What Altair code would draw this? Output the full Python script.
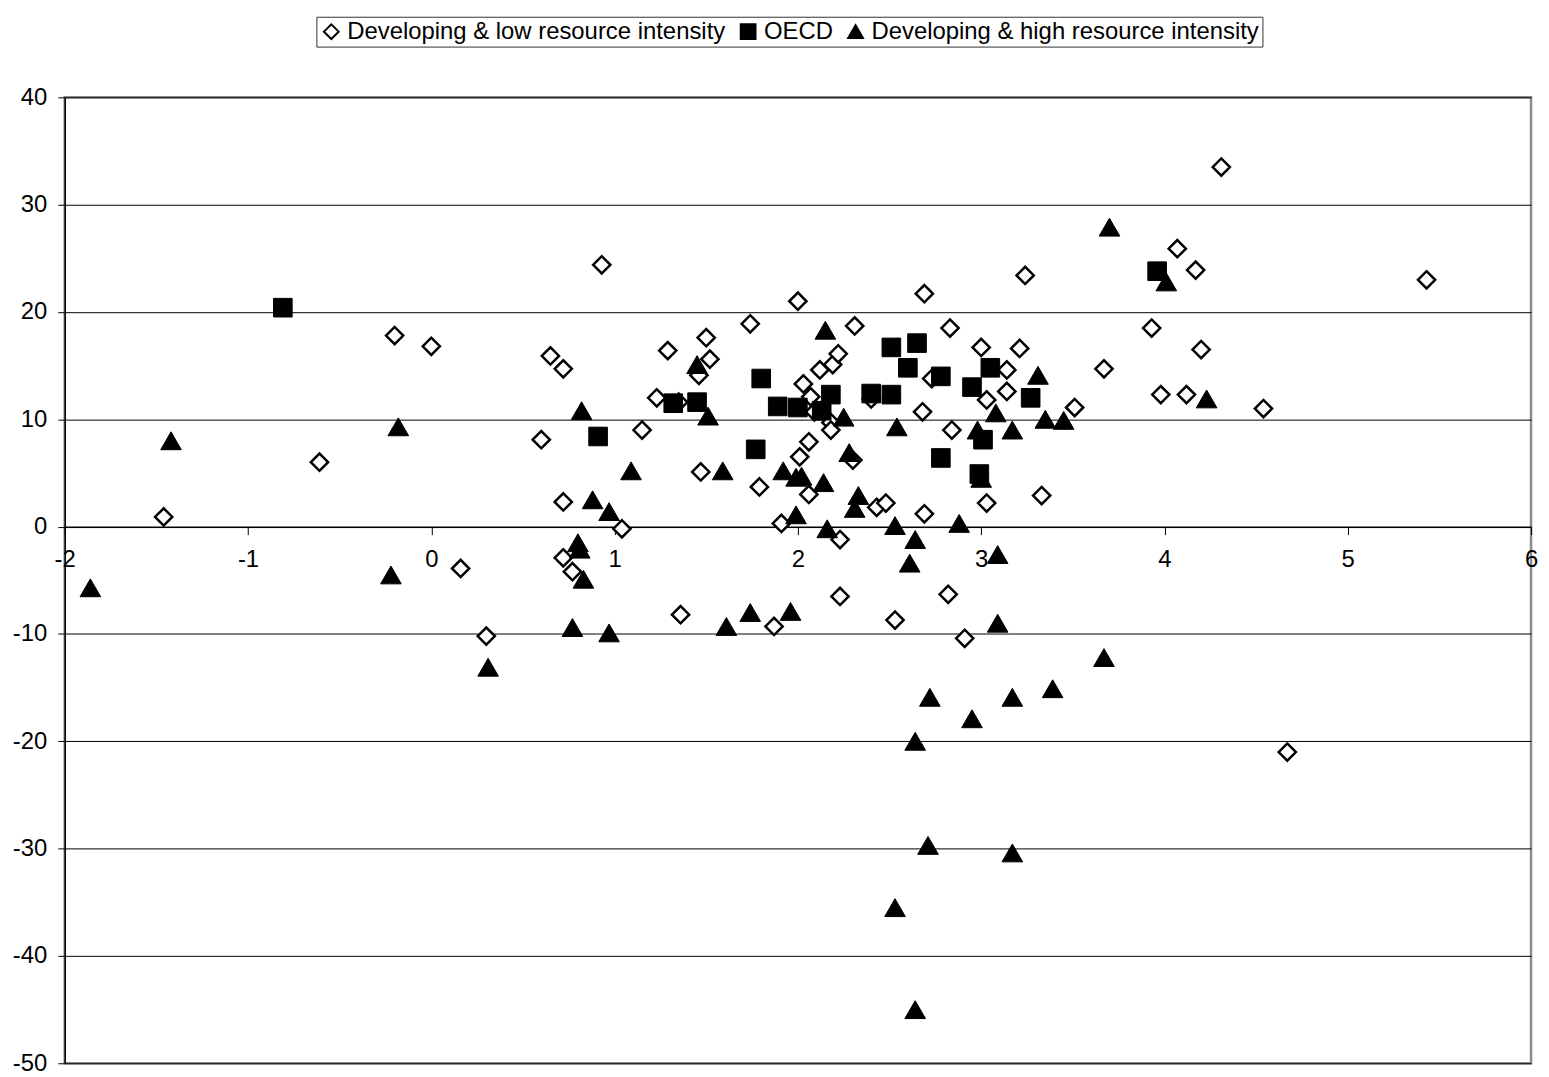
import altair as alt
import pandas as pd

# ---- data ----
series = ["Developing & low resource intensity", "OECD", "Developing & high resource intensity"]

low_x = [-1.46, -0.61, -0.20, 0.00, 0.16, 0.30, 0.60, 0.65, 0.72, 0.93, 0.72, 0.72, 0.77, 1.04,
         1.15, 1.23, 1.29, 1.35, 1.36, 1.46, 1.50, 1.52, 1.47, 1.74, 1.79, 1.87, 1.91, 2.00,
         2.03, 2.06, 2.01, 2.06, 2.07, 2.09, 2.12, 2.19, 2.22, 2.18, 2.18, 2.23, 2.23, 2.30,
         2.31, 2.40, 2.43, 2.48, 2.53, 2.68, 2.69, 2.69, 2.73, 2.82, 2.83, 2.84, 2.91, 3.00,
         3.03, 3.03, 3.14, 3.14, 3.21, 3.24, 3.33, 3.51, 3.67, 3.93, 3.98, 4.07, 4.12, 4.17,
         4.20, 4.31, 4.54, 4.67, 5.43]
low_y = [0.9, 6.0, 17.8, 16.8, -3.9, -10.2, 8.1, 15.9, 14.7, 24.4, 2.3, -2.9, -4.2, -0.2,
         9.0, 12.0, 16.4, 11.6, -8.2, 14.1, 17.6, 15.6, 5.1, 18.9, 3.7, -9.3, 0.3, 21.0,
         13.3, 7.9, 6.5, 3.0, 12.1, 10.7, 14.6, 15.1, 16.1, 9.7, 9.0, -1.2, -6.5, 6.2,
         18.7, 11.9, 1.8, 2.2, -8.7, 10.7, 21.7, 1.2, 13.8, -6.3, 18.5, 9.0, -10.4, 16.7,
         11.8, 2.2, 14.6, 12.6, 16.6, 23.4, 2.9, 11.1, 14.7, 18.5, 12.3, 25.9, 12.3, 23.9,
         16.5, 33.5, 11.0, -21.0, 23.0]

oecd_x = [-0.81, 0.91, 1.32, 1.45, 1.77, 1.80, 1.89, 2.00, 2.13, 2.18, 2.40, 2.51, 2.51, 2.60,
          2.65, 2.78, 2.78, 2.95, 2.99, 3.01, 3.05, 3.27, 3.96]
oecd_y = [20.4, 8.4, 11.5, 11.6, 7.2, 13.8, 11.2, 11.1, 10.8, 12.3, 12.4, 12.3, 16.7, 14.8,
          17.1, 14.0, 6.4, 13.0, 4.9, 8.1, 14.8, 12.0, 23.8]

high_x = [-1.86, -1.42, -0.22, -0.18, 0.31, 0.77, 0.80, 0.81, 0.83, 0.82, 0.88, 0.97, 0.97,
          1.09, 1.45, 1.51, 1.59, 1.61, 1.74, 1.92, 1.96, 1.99, 2.02, 1.99, 2.14, 2.15, 2.16,
          2.25, 2.28, 2.33, 2.31, 2.53, 2.54, 2.53, 2.61, 2.64, 2.64, 2.64, 2.71, 2.72, 2.88,
          2.95, 2.98, 3.00, 3.08, 3.09, 3.09, 3.17, 3.17, 3.17, 3.31, 3.35, 3.39, 3.45, 3.67,
          3.70, 4.01, 4.23]
high_y = [-5.7, 8.0, -4.5, 9.3, -13.1, -9.4, -1.5, -2.1, -4.9, 10.8, 2.5, 1.4, -9.9,
          5.2, 15.1, 10.3, 5.2, -9.3, -8.0, 5.2, -7.9, 4.6, 4.7, 1.1, 4.1, 18.3, -0.2,
          10.2, 6.9, 2.9, 1.7, 0.1, 9.3, -35.5, -3.4, -1.2, -20.0, -45.0, -29.7, -15.9, 0.3,
          -17.9, 9.0, 4.5, 10.6, -2.6, -9.0, 9.0, -15.9, -30.4, 14.1, 10.0, -15.1, 9.9, -12.2,
          27.9, 22.8, 11.9]

x_ticks = [-2, -1, 0, 1, 2, 3, 4, 5, 6]
y_ticks = [-50, -40, -30, -20, -10, 0, 10, 20, 30, 40]

rows = []
for name, xs, ys in [(series[0], low_x, low_y), (series[1], oecd_x, oecd_y), (series[2], high_x, high_y)]:
    for a, b in zip(xs, ys):
        rows.append({"group": name, "x": a, "y": b})
df = pd.DataFrame(rows)

W, H = 1474, 971
y_min, y_max = y_ticks[0], y_ticks[-1]
# shift the bottom x axis up so it sits on y = 0
x_axis_offset = -H * (0 - y_min) / (y_max - y_min)

FONT = "Liberation Sans"

base = alt.Chart(df).encode(
    x=alt.X("x:Q",
            scale=alt.Scale(domain=[x_ticks[0], x_ticks[-1]], nice=False, zero=False),
            axis=alt.Axis(values=x_ticks, grid=False, offset=x_axis_offset, tickSize=8,
                          labelPadding=13, labelFlush=False, labelOverlap=False,
                          labelExpr="datum.value + ''",
                          domainColor="black", tickColor="black", title=None)),
    y=alt.Y("y:Q",
            scale=alt.Scale(domain=[y_min, y_max], nice=False, zero=False),
            axis=alt.Axis(values=y_ticks, grid=True, gridColor="black", gridWidth=1,
                          gridOpacity=1, tickSize=7, labelPadding=11, labelFlush=False,
                          labelOverlap=False, labelExpr="datum.value + ''",
                          domainColor="black", tickColor="black", title=None)),
    shape=alt.Shape("group:N", sort=series, title=None,
                    scale=alt.Scale(domain=series, range=["diamond", "square", "triangle-up"])),
    fill=alt.Fill("group:N", sort=series, title=None,
                  scale=alt.Scale(domain=series, range=["white", "black", "black"])),
    stroke=alt.Stroke("group:N", sort=series, title=None,
                      scale=alt.Scale(domain=series, range=["black", "black", "black"])),
)

sizes = [300, 350, 430]
widths = [2.5, 1, 1]
layers = []
for name, s, w in zip(series, sizes, widths):
    layers.append(
        base.transform_filter(alt.datum.group == name)
        .mark_point(filled=True, opacity=1, size=s, strokeWidth=w)
    )

chart = alt.layer(*layers).properties(
    width=W, height=H,
    autosize=alt.AutoSizeParams(type="none"),
    padding={"left": 57, "top": 87, "right": 10, "bottom": 11},
).configure_view(
    stroke="#8c8c8c", strokeWidth=2.5
).configure_axis(
    labelFont=FONT, labelFontSize=24, labelColor="black", domainWidth=1.5
).configure_legend(
    orient="none", legendX=253, legendY=-81, direction="horizontal",
    strokeColor="#333333", padding=3, symbolSize=220, symbolStrokeWidth=2,
    labelFont=FONT, labelFontSize=24, labelColor="black",
    labelLimit=0, columnPadding=10, labelOffset=4, fillColor="white"
)

chart.save("out.html", embed_options={"renderer": "svg", "actions": False})
